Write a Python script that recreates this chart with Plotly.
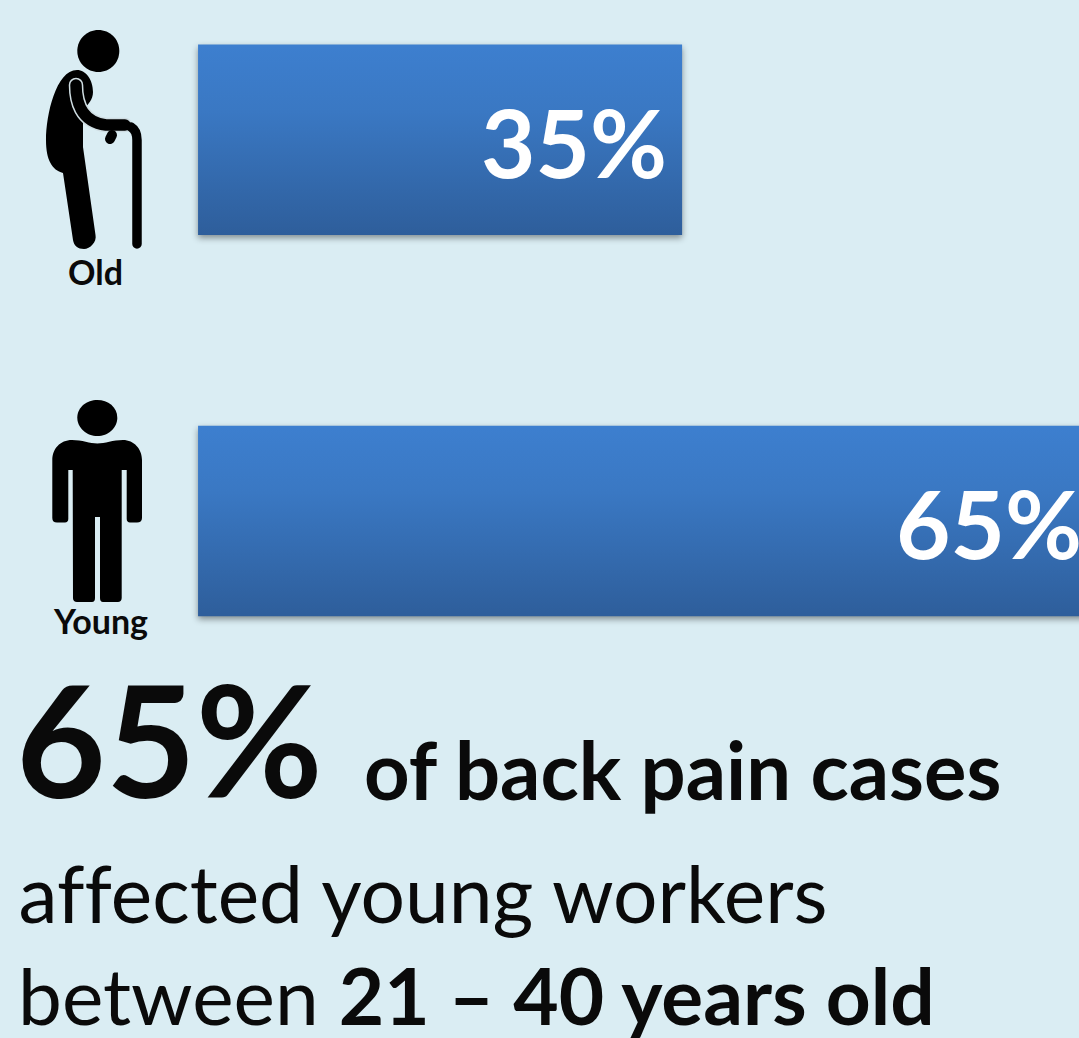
import re
import plotly.graph_objects as go

W, H = 1079, 1038
BG = "#daedf3"

categories = ["Old", "Young"]
values = [35, 65]
value_labels = ["35%", "65%"]

FONT = "Lato, 'Open Sans', sans-serif"

# pictograms, in picture pixels
HEAD_OLD = "M 77.3 51 C 77.3 39 87 30 98.3 30 C 110 30 119.3 39 119.3 51 C 119.3 63 110 72 98.3 72 C 87 72 77.3 63 77.3 51 Z"
BODY_OLD = ("M 77 70 C 86 70 93 80 93 92 C 93 100 88 104 85 108 L 83 123 L 83 147 L 95.5 235 "
            "C 97 242 90 249 84 249 C 78 249 74 246 73 240 L 63 173 C 52 170 46 160 46 140 "
            "C 46 115 56 70 77 70 Z")
ARM_OLD = "M 76 85 C 76 100 80 122 106 125 L 125 125"
CANE_OLD = "M 131 127 C 136 130 137 135 137 140 L 137 244"
HAND_OLD = "M 112 135 L 110 139"
HEAD_YOUNG = "M 77.3 417.7 C 77.3 407 87 400 97.3 400 C 108 400 117.3 407 117.3 417.7 C 117.3 428 108 436 97.3 436 C 87 436 77.3 428 77.3 417.7 Z"
BODY_YOUNG = ("M 72 440 C 82 440 90 443.5 97.3 443.5 C 105 443.5 113 440 123 440 C 134 440 142 449 142 460 "
              "L 142 518 C 142 521 140 522.5 137 522.5 L 130 522.5 C 128 522.5 126.7 521 126.7 519 L 126.7 470 "
              "L 121.7 470 L 121.7 598 C 121.7 600.5 120 602 118 602 L 103 602 C 101 602 100 600.5 100 598 L 100 517 "
              "L 95 517 L 95 598 C 95 600.5 94 602 92 602 L 77 602 C 74.5 602 73 600.5 73 598 L 72.7 470 "
              "L 68.3 470 L 68.3 519 C 68.3 521 67 522.5 65 522.5 L 57 522.5 C 54 522.5 52.3 521 52.3 518 "
              "L 52.3 460 C 52.3 449 60 440 72 440 Z")


def to_paper(path):
    """Map a pixel-space SVG path to paper coordinates."""
    out, is_x = [], True
    for p in re.findall(r"[A-Za-z]|-?[\d.]+", path):
        if p.isalpha():
            out.append(p)
            is_x = True
        else:
            v = float(p)
            out.append(f"{v/W:.6f}" if is_x else f"{1-v/H:.6f}")
            is_x = not is_x
    return " ".join(out)


def solid(path):
    return dict(type="path", xref="paper", yref="paper", path=to_paper(path),
                fillcolor="black", line=dict(width=0), layer="above")


def stroke(path, color, width):
    return dict(type="path", xref="paper", yref="paper", path=to_paper(path),
                line=dict(color=color, width=width), layer="above")


shapes = [
    solid(HEAD_OLD), solid(BODY_OLD),
    stroke(ARM_OLD, "#cfdde2", 14.5), stroke(ARM_OLD, "black", 11.5),
    stroke(HAND_OLD, "black", 10), stroke(CANE_OLD, "black", 9.5),
    solid(HEAD_YOUNG), solid(BODY_YOUNG),
]

fig = go.Figure(go.Bar(
    x=values, y=categories, orientation="h", width=0.5,
    marker=dict(color="#3567a8", line=dict(width=0)),
    hoverinfo="skip",
))

# value labels sit just inside the bar end; the anchor stays inside the axis range
annotations = [
    dict(x=v - 1.35, y=c, xref="x", yref="y", text=f"<b>{t}</b>", showarrow=False,
         xanchor="right", xshift=5.7, yshift=-2,
         font=dict(family=FONT, size=94, color="white"))
    for v, c, t in zip(values, categories, value_labels)
]


def label(text, px, py, size, anchor="left"):
    return dict(x=px / W, y=1 - py / H, xref="paper", yref="paper", text=text, showarrow=False,
                xanchor=anchor, yanchor="middle", font=dict(family=FONT, size=size, color="#0a0a0a"))


annotations += [
    label("<b>Old</b>", 95, 271, 34, "center"),
    label("<b>Young</b>", 100, 620, 34, "center"),
    label("<b>65%</b>", 14, 738, 155),
    label("<b>of back pain cases</b>", 362, 769, 79.5),
    label("affected young workers", 18, 893, 78.5),
    label("between <b>21 – 40 years old</b>", 16, 995, 78.4),
]

fig.update_layout(
    width=W, height=H, margin=dict(l=0, r=0, t=0, b=0),
    paper_bgcolor=BG, plot_bgcolor=BG, showlegend=False,
    xaxis=dict(range=[-14.32, 63.7], visible=False),
    yaxis=dict(range=[2.357, -0.367], visible=False, type="category",
               categoryorder="array", categoryarray=categories),
    shapes=shapes, annotations=annotations,
)

post = """
document.body.style.margin = '0';
document.body.style.background = '%s';
var gd = document.getElementById('{plot_id}');
var svg = gd.querySelector('svg.main-svg');
var ns = 'http://www.w3.org/2000/svg';
var g = document.createElementNS(ns, 'linearGradient');
g.setAttribute('id', 'barGrad');
g.setAttribute('x1', '0'); g.setAttribute('y1', '0');
g.setAttribute('x2', '0'); g.setAttribute('y2', '1');
[['0', '#3d7fcf'], ['0.35', '#3a78c3'], ['1', '#2e5e9b']].forEach(function (s) {
  var st = document.createElementNS(ns, 'stop');
  st.setAttribute('offset', s[0]); st.setAttribute('stop-color', s[1]);
  g.appendChild(st);
});
var defs = svg.querySelector('defs') || svg.insertBefore(document.createElementNS(ns, 'defs'), svg.firstChild);
defs.appendChild(g);
gd.querySelectorAll('.bars .point path').forEach(function (p) {
  p.style.fill = 'url(#barGrad)';
  p.style.filter = 'drop-shadow(0 3px 3px rgba(0,0,0,0.4))';
});
gd.querySelectorAll('.shapelayer path').forEach(function (p) {
  p.style.strokeLinecap = 'round';
  p.style.strokeLinejoin = 'round';
});
gd.querySelectorAll('text').forEach(function (t) {
  t.style.fontVariantLigatures = 'none';
});
""" % BG

fig.write_html("out.html", config=dict(displayModeBar=False), post_script=post)
